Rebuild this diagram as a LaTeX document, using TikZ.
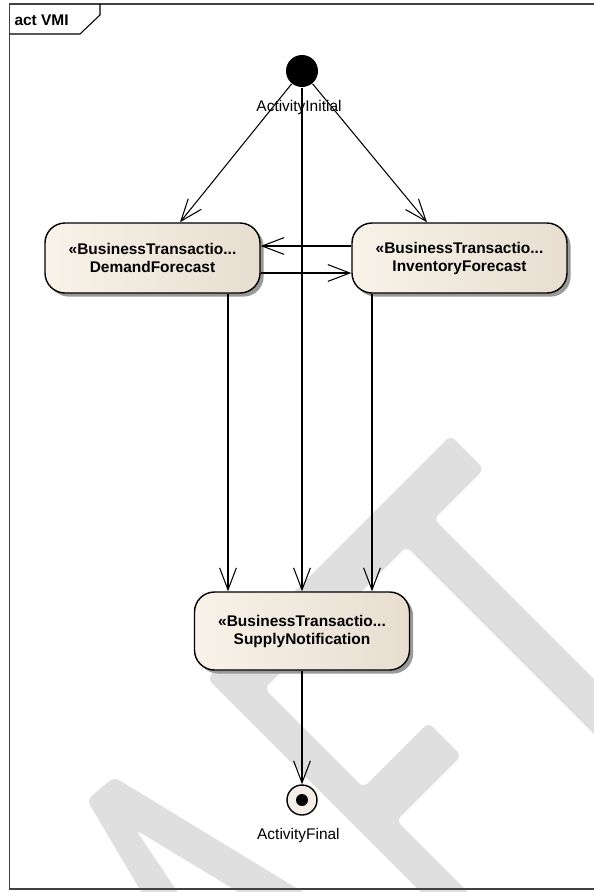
\documentclass[tikz,border=0pt]{standalone}
\usepackage{fontspec}
\setmainfont{Liberation Sans}
\usepackage{tikz}
\usetikzlibrary{
	arrows.meta,
	shadows}

\definecolor{wmgray}{HTML}{DFDFDF}
\definecolor{actleft}{HTML}{F8F2E8}
\definecolor{actright}{HTML}{E7DED0}
\definecolor{finalfill}{HTML}{F3EEE6}

\begin{document}
\begin{tikzpicture}[
    >={Straight Barb[length=0.55cm,width=0.42cm]},
    line width=0.75pt,
    action/.style={rectangle, rounded corners=0.5cm, draw, line width=1pt,
      left color=actleft, right color=actright,
      drop shadow={shadow xshift=0.09cm, shadow yshift=-0.09cm, fill=black!40, opacity=1},
      minimum width=5.375cm, align=center,
      font=\fontsize{11}{12.8}\selectfont\bfseries},
    caption/.style={font=\fontsize{11}{13}\selectfont, inner sep=0pt},
    watermark/.style={fill=wmgray, rounded corners=0.15cm}]
    \useasboundingbox (0,0) rectangle (14.85,-22.3);

    % watermark behind the diagram
    \fill [watermark] (2.175,-20) -- (2.85,-19.425) -- (7.9,-22.5) -- (6.2875,-22.5)
      -- (3.4,-20.75) -- (4.575,-22.5) -- (3.65,-22.5) -- cycle;
    \fill [watermark] (5.1875,-16.9625) -- (11.2625,-10.8875) -- (12.1,-11.725)
      -- (10.85,-12.975) -- (15.5,-17.625) -- (15.5,-19) -- (10.1625,-13.6625)
      -- (6.6125,-17.2125) -- (9.0875,-19.6875) -- (10.7125,-18.0625)
      -- (11.5375,-18.8875) -- (9.9125,-20.5125) -- (11.9,-22.5) -- (10.725,-22.5) -- cycle;

    % frame
    \draw [black!75] (14.9,-0.1) -- (0.2375,-0.1) -- (0.2375,-22.225) -- (14.9,-22.225);
    \draw (0.2375,-0.85) -- (2.0,-0.85) -- (2.5,-0.375) -- (2.5,-0.1);
    \node [anchor=west, inner sep=0pt, font=\fontsize{11}{13}\selectfont\bfseries] (ACT) at (0.35,-0.5) {act VMI};

    \node [circle, fill=black, minimum size=0.8cm, inner sep=0pt] (I0) at (7.55,-1.775) {};
    \node [caption] (IL0) at (7.475,-2.675) {ActivityInitial};
    \node [action, minimum height=1.75cm] (DF1) at (3.8125,-6.45) {«BusinessTransactio...\\DemandForecast};
    \node [action, minimum height=1.75cm] (IF1) at (11.4875,-6.45) {«BusinessTransactio...\\InventoryForecast};
    \node [action, minimum height=1.95cm] (SN2) at (7.55,-15.775) {«BusinessTransactio...\\SupplyNotification};
    \node [circle, draw, line width=1pt, fill=finalfill, minimum size=0.75cm, inner sep=0pt] (F3) at (7.55,-20) {};
    \fill (F3) circle (0.15);
    \node [caption] (FL3) at (7.46,-20.89) {ActivityFinal};

    \draw [<-] ([xshift=0.6875cm]DF1.north) to (I0);
    \draw [<-] ([xshift=-0.8125cm]IF1.north) to (I0);
    \draw [<-] (SN2) to (I0);
    \draw [<-] ([yshift=0.3cm]DF1.east) to ([yshift=0.3cm]IF1.west);
    \draw [<-] ([yshift=-0.375cm]IF1.west) to ([yshift=-0.375cm]DF1.east);
    \draw [<-] ([xshift=-1.85cm]SN2.north) to ([xshift=-1.85cm]SN2.north |- DF1.south);
    \draw [<-] ([xshift=1.75cm]SN2.north) to ([xshift=1.75cm]SN2.north |- IF1.south);
    \draw [<-] (F3) to (SN2);
\end{tikzpicture}
\end{document}
